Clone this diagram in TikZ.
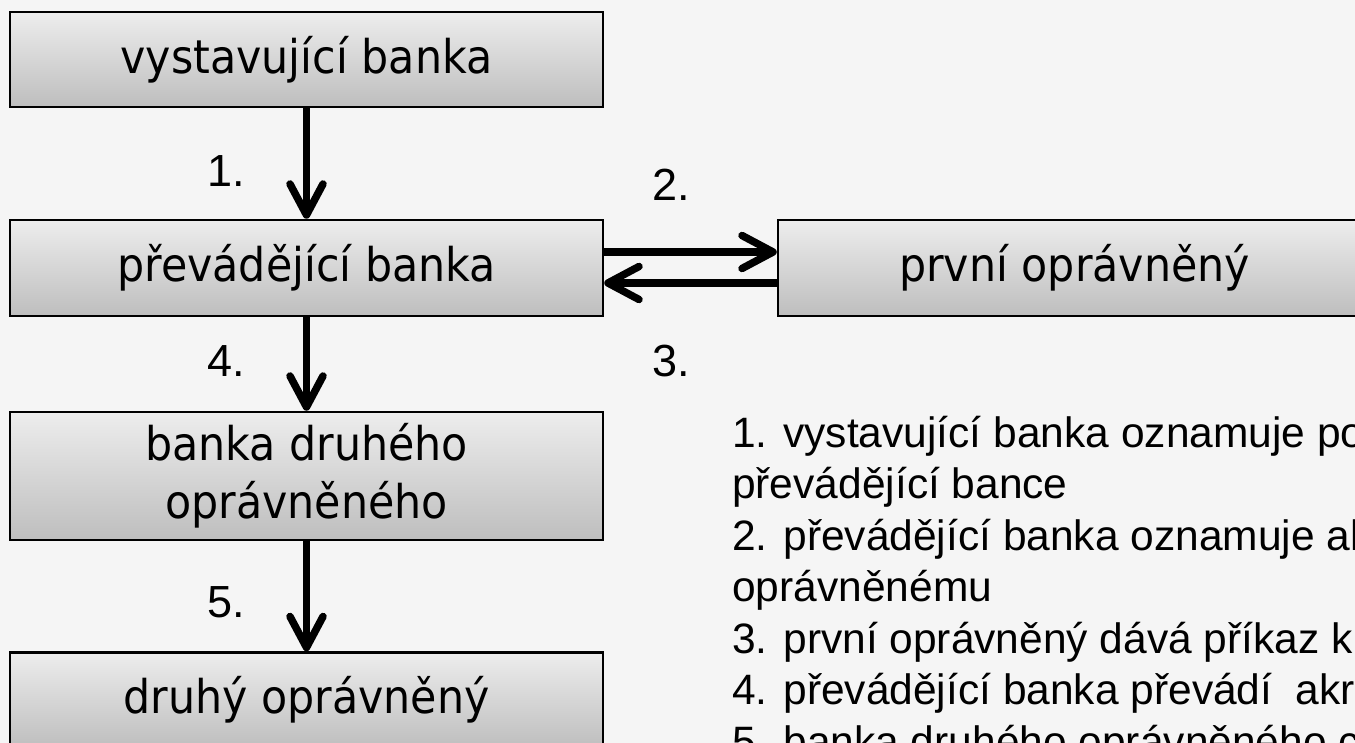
\documentclass[tikz,border=0pt]{standalone}
\usepackage{fontspec}
\setmainfont{Liberation Sans}
\newfontfamily\boxfont[FakeStretch=0.92]{DejaVu Sans}
\usetikzlibrary{arrows.meta}
\definecolor{bg}{RGB}{245,245,245}
\definecolor{boxtop}{RGB}{237,237,237}
\definecolor{boxbot}{RGB}{190,190,190}
\begin{document}
\begin{tikzpicture}[x=1pt,y=-1pt,
  bank/.style={draw=black, line width=2.5pt, top color=boxtop, bottom color=boxbot,
    minimum width=593pt, inner sep=0pt, align=center, text=black,
    font=\boxfont\fontsize{46.5}{58}\selectfont},
  flow/.style={line width=7.5pt, -{Straight Barb[round,length=31pt,width=33pt]}},
  lab/.style={inner sep=0pt, font=\fontsize{45}{50}\selectfont},
  leg/.style={inner sep=0pt, anchor=base west, font=\fontsize{42.5}{50}\selectfont}]
\useasboundingbox (0,0) rectangle (1355,743);
\clip (0,0) rectangle (1355,743);
\fill[bg] (0,0) rectangle (1355,743);
\node[bank, minimum height=95pt] (vb) at (306.5,59.5) {vystavující banka};
\node[bank, minimum height=96pt] (pb) at (306.5,268) {převádějící banka};
\node[bank, minimum height=96pt] (po) at (1074.5,268) {první oprávněný};
\node[bank, minimum height=128pt] (bd) at (306.5,476) {banka druhého\\oprávněného};
\node[bank, minimum height=95pt] (dr) at (306.5,700) {druhý oprávněný};
\draw[flow] (vb.south) -- (pb.north);
\draw[flow] (pb.south) -- (bd.north);
\draw[flow] (bd.south) -- (dr.north);
\draw[flow] ([yshift=16pt]pb.east) -- ([yshift=16pt]pb.east -| po.west);
\draw[flow] ([yshift=-15pt]po.west) -- ([yshift=-15pt]po.west -| pb.east);
\node[lab] (l1) at (226,171) {1.};
\node[lab] (l4) at (226,361) {4.};
\node[lab] (l5) at (226,602) {5.};
\node[lab] (l2) at (671,185) {2.};
\node[lab] (l3) at (671,361) {3.};
\node[leg] (t1) at (732,447) {1. vystavující banka oznamuje po};
\node[leg] (t2) at (732,498) {převádějící bance};
\node[leg] (t3) at (732,550) {2. převádějící banka oznamuje al};
\node[leg] (t4) at (732,601) {oprávněnému};
\node[leg] (t5) at (732,653) {3. první oprávněný dává příkaz k};
\node[leg] (t6) at (732,704) {4. převádějící banka převádí\ \ akr};
\node[leg] (t7) at (732,756) {5. banka druhého oprávněného c};
\end{tikzpicture}
\end{document}
